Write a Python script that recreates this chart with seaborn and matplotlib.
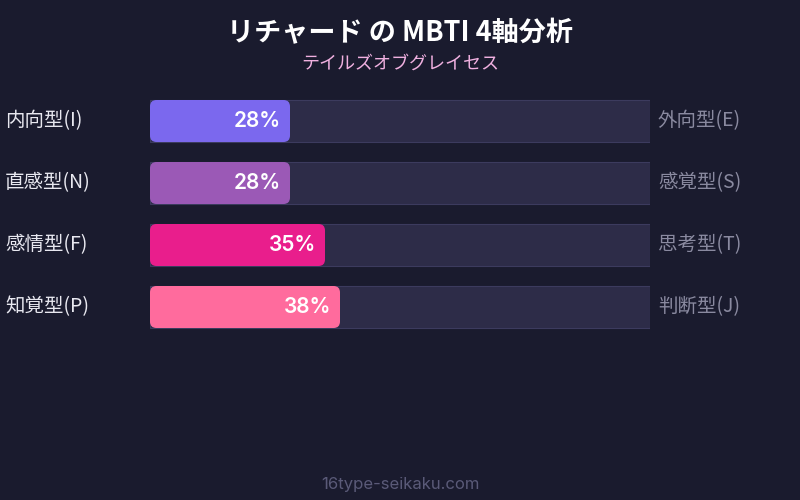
import matplotlib
matplotlib.use("Agg")
import matplotlib.pyplot as plt
import seaborn as sns
import pandas as pd
from matplotlib.patches import FancyBboxPatch

# data
left_labels = ["内向型(I)", "直感型(N)", "感情型(F)", "知覚型(P)"]
right_labels = ["外向型(E)", "感覚型(S)", "思考型(T)", "判断型(J)"]
scores = [28, 28, 35, 38]
bar_colors = ["#7b68ee", "#9b59b6", "#e91e8c", "#ff6b9d"]
title = "リチャード の MBTI 4軸分析"
subtitle = "テイルズオブグレイセス"
footer = "16type-seikaku.com"

BG = "#1a1b2e"
TRACK = "#2d2c48"
JP = ["Noto Sans CJK JP", "DejaVu Sans"]

sns.set_theme(style="dark")
plt.rcParams["font.family"] = JP

df = pd.DataFrame({"axis": left_labels, "score": scores, "full": [100] * len(scores)})

fig = plt.figure(figsize=(8, 5), dpi=100, facecolor=BG)
ax = fig.add_axes([150 / 800, 1 - 338 / 500, 500 / 800, 248 / 500])
ax.set_facecolor(BG)

# background tracks
sns.barplot(data=df, x="full", y="axis", orient="h", color=TRACK, width=42 / 62,
            saturation=1, edgecolor="#3c3b5e", linewidth=0.8, ax=ax)
n_track = len(ax.patches)

# filled bars
sns.barplot(data=df, x="score", y="axis", orient="h", hue="axis", palette=bar_colors,
            width=42 / 62, saturation=1, legend=False, ax=ax)

# swap the filled bars for rounded ones (1 x unit = 5px, 1 y unit = 62px)
for p, c in zip(list(ax.patches[n_track:]), bar_colors):
    x, y, w, h = p.get_x(), p.get_y(), p.get_width(), p.get_height()
    p.set_visible(False)
    ax.add_patch(FancyBboxPatch((x, y), w, h, boxstyle="round,pad=0,rounding_size=1.3",
                                mutation_aspect=5 / 62,
                                facecolor=c, edgecolor="none", zorder=3))

ax.set_xlim(0, 100)
ax.set_ylim(3.5, -0.5)
ax.axis("off")

for i, (l, r, s) in enumerate(zip(left_labels, right_labels, scores)):
    ax.text(-29, i, l, ha="left", va="center", fontsize=14, color="#e8e8f0", clip_on=False)
    ax.text(101.6, i, r, ha="left", va="center", fontsize=14, color="#8a8aa0", clip_on=False)
    ax.text(s - 1.8, i, f"{s}%", ha="right", va="center", fontsize=15, fontweight="semibold",
            color="white", family=["Inter", "DejaVu Sans"], zorder=4)

fig.text(0.5, 1 - 33 / 500, title, ha="center", va="center", fontsize=19.5,
         fontweight="bold", color="white")
fig.text(0.5, 1 - 64 / 500, subtitle, ha="center", va="center", fontsize=13,
         color="#f0b0e0")
fig.text(0.5, 1 - 484 / 500, footer, ha="center", va="center", fontsize=12,
         color="#5a5a78", family=["Inter", "DejaVu Sans"])

fig.savefig("out.png", dpi=100, facecolor=BG)
